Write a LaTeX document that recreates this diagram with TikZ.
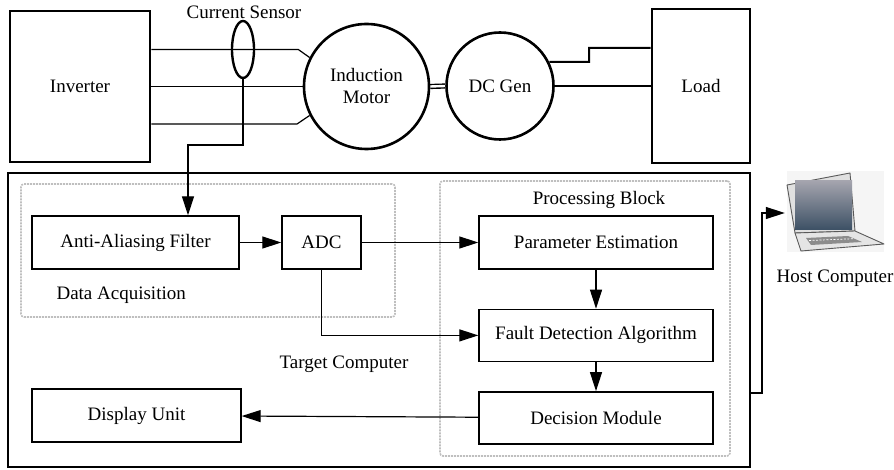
\documentclass[tikz,border=0pt]{standalone}
\usepackage{fontspec}
\setmainfont{Liberation Serif}
\usepackage{tikz}
\usetikzlibrary{positioning, arrows.meta, shapes.geometric, calc}
\usepackage{xcolor}
\definecolor{scrtop}{RGB}{164,164,174}
\definecolor{scrbot}{RGB}{60,80,100}

\begin{document}
\begin{tikzpicture}[x=1pt, y=-1pt,
    every node/.style={font=\fontsize{19}{22}\selectfont},
    block/.style={draw, line width=1.4pt, inner sep=0pt},
    heavy/.style={draw, line width=2.6pt, inner sep=0pt},
    machine/.style={circle, draw, line width=2.6pt, inner sep=0pt, align=center},
    dashbox/.style={draw=gray!50, line width=1.6pt, dash pattern=on 2pt off 1pt, rounded corners=3pt},
    wire/.style={line width=1.2pt},
    sig/.style={line width=1.2pt, -{Triangle[length=19pt, width=12pt]}}
]
\useasboundingbox (0,0) rectangle (894,470);

% Drive train
\node[heavy, minimum width=140pt, minimum height=151pt] (inv) at (80,86.5) {Inverter};
\node[machine, minimum size=125pt] (motor) at (366.5,86.5) {Induction\\Motor};
\node[machine, minimum size=107pt] (gen) at (500,86) {DC Gen};
\node[heavy, minimum width=98pt, minimum height=154pt] (load) at (701,86) {Load};
\node[ellipse, draw, line width=2.4pt, minimum width=22pt, minimum height=57pt, inner sep=0pt] (cs) at (243,49.5) {};
\node (cslabel) at (244,12) {Current Sensor};

% Three phase lines
\coordinate (w3) at (297,124);
\draw[wire] (inv.east |- cs) -- ++(147,0) -- (motor.153);
\draw[wire] (inv.east) -- (motor.west);
\draw[wire] (inv.east |- w3) -- (w3) -- (motor.207);

% Shaft and generator output
\draw[line width=1.4pt, double, double distance=2.4pt] (motor.east) -- (gen.west);
\coordinate (kink) at (589,62);
\draw[line width=2pt] (gen.26) -- (kink) |- ($(load.west)+(0,-38)$);
\draw[line width=2pt] (gen.east) -- (gen.east -| load.west);

% Target computer
\node[heavy, line width=2.8pt, minimum width=742pt, minimum height=294pt] (tc) at (379,320) {};
\node (tclabel) at (344,364) {Target Computer};
\node[dashbox, minimum width=374pt, minimum height=133pt] (daq) at (208,250.5) {};
\node[anchor=west] (daqlabel) at (53,295) {Data Acquisition};
\node[dashbox, minimum width=290pt, minimum height=275pt] (pb) at (585,318.5) {};
\node (pblabel) at (599,200) {Processing Block};

\node[block, minimum width=207pt, minimum height=53pt] (aaf) at (135.5,242.5) {Anti-Aliasing Filter};
\node[block, minimum width=79pt, minimum height=53pt] (adc) at (321.5,242.5) {ADC};
\node[block, minimum width=234pt, minimum height=53pt] (pe) at (596,242.5) {Parameter Estimation};
\node[block, minimum width=234pt, minimum height=52pt, below=39pt of pe] (fda) {Fault Detection Algorithm};
\node[block, minimum width=234pt, minimum height=52pt, below=29pt of fda] (dm) {Decision Module};
\node[block, minimum width=209pt, minimum height=53pt] (du) at (136.5,415.5) {Display Unit};

% Signal path
\coordinate (tap) at (188,145);
\draw[sig] (cs.south) |- (tap) -- (tap |- aaf.north);
\draw[sig] (aaf) -- (adc);
\draw[sig] (adc) -- (pe);
\draw[sig] (adc.south) |- (fda.west);
\draw[sig] (pe) -- (fda);
\draw[sig] (fda) -- (dm);
\draw[sig] (dm) -- (du);

% Host laptop
\fill[black!4] (787,171) rectangle (884,252);
\filldraw[draw=black!65, fill=black!12, line width=0.9pt, line join=round] (787,185) -- (850,173) -- (855,231) -- (795,233) -- cycle;
\shade[top color=scrtop, bottom color=scrbot] (795,181) rectangle (852,230);
\filldraw[draw=black!65, fill=black!10, line width=0.9pt, line join=round] (795,233) -- (855,231) -- (884,244) -- (801,251) -- cycle;
\fill[black!45] (806,238) -- (848,236) -- (862,242) -- (811,245) -- cycle;
\draw[white, line width=0.7pt, dash pattern=on 2pt off 1.5pt] (809,240.5) -- (854,238.7);
\node[minimum width=88pt, minimum height=80pt] (host) at (829,213) {};
\node (hostlabel) at (835,278) {Host Computer};

\coordinate (uplink) at (762,393);
\draw[sig] (tc.east |- uplink) -- (uplink) |- (host.west);
\end{tikzpicture}
\end{document}
